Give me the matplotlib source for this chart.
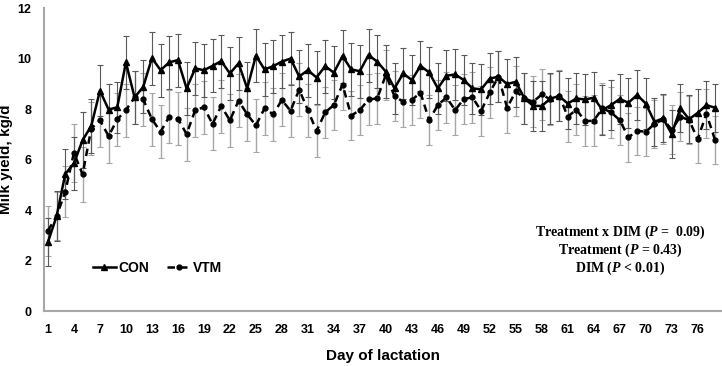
import numpy as np
import matplotlib
matplotlib.use('Agg')
import matplotlib.pyplot as plt

plt.rcParams['font.family'] = ['Liberation Sans', 'DejaVu Sans']
plt.rcParams['mathtext.fontset'] = 'custom'
plt.rcParams['mathtext.it'] = 'Liberation Serif:italic:bold'
plt.rcParams['mathtext.rm'] = 'Liberation Serif:bold'

days = np.arange(1, 79)

con = [2.73, 3.76, 5.43, 5.85, 6.77, 7.33, 8.73, 7.98, 8.07, 9.85,
       8.46, 8.88, 10.02, 9.54, 9.85, 9.94, 8.82, 9.61, 9.54, 9.71,
       9.90, 9.41, 9.81, 8.82, 10.11, 9.57, 9.70, 9.88, 10.00, 9.29,
       9.54, 9.25, 9.70, 9.44, 10.10, 9.57, 9.50, 10.14, 9.88, 9.48,
       8.82, 9.41, 9.15, 9.71, 9.45, 8.82, 9.32, 9.37, 9.15, 8.82,
       8.78, 9.21, 9.28, 8.99, 9.08, 8.42, 8.13, 8.12, 8.42, 8.51,
       8.22, 8.42, 8.38, 8.45, 7.96, 8.16, 8.40, 8.25, 8.56, 8.22,
       7.50, 7.63, 7.01, 8.03, 7.60, 7.85, 8.16, 8.05]

vtm = [3.18, 3.76, 4.73, 6.27, 5.41, 7.23, 7.56, 6.93, 7.59, 7.96,
       8.46, 8.38, 7.60, 7.10, 7.70, 7.62, 7.01, 7.96, 8.07, 7.41,
       8.12, 7.55, 8.33, 7.79, 7.35, 8.03, 7.79, 8.36, 7.93, 8.77,
       7.96, 7.13, 7.87, 8.16, 8.97, 7.74, 7.96, 8.38, 8.42, 9.35,
       8.51, 8.29, 8.36, 8.65, 7.56, 8.16, 8.46, 7.96, 8.40, 8.46,
       7.93, 8.66, 9.28, 8.05, 8.71, 8.42, 8.29, 8.58, 8.38, 8.53,
       7.70, 7.98, 7.52, 7.54, 8.03, 7.87, 7.56, 6.88, 7.14, 7.10,
       7.41, 7.59, 7.19, 7.70, 7.56, 6.81, 7.82, 6.77]

con_se = [0.95, 1.00, 1.00, 1.05, 1.10, 1.05, 1.00, 1.00, 1.00, 1.05,
          1.05, 1.05, 1.05, 1.05, 1.05, 1.05, 1.05, 1.05, 1.05, 1.05,
          1.05, 1.05, 1.05, 1.05, 1.05, 1.05, 1.05, 1.05, 1.05, 1.05,
          1.05, 1.05, 1.05, 1.05, 1.05, 1.05, 1.05, 1.05, 1.05, 1.05,
          1.00, 1.00, 1.00, 1.00, 1.00, 1.00, 1.00, 1.00, 1.00, 1.00,
          1.00, 1.00, 1.00, 1.00, 1.00, 1.00, 1.00, 1.00, 1.00, 1.00,
          1.00, 1.00, 1.00, 1.00, 1.00, 1.00, 1.00, 1.00, 1.00, 1.00,
          0.95, 0.95, 0.95, 0.95, 0.95, 0.95, 0.95, 0.95]

vtm_se = [1.00, 0.95, 1.00, 1.15, 1.10, 1.05, 1.05, 1.05, 1.05, 1.05,
          1.05, 1.05, 1.05, 1.05, 1.05, 1.05, 1.05, 1.05, 1.05, 1.05,
          1.05, 1.05, 1.05, 1.05, 1.05, 1.05, 1.05, 1.05, 1.05, 1.05,
          1.05, 1.02, 1.00, 1.00, 1.00, 0.96, 1.00, 1.00, 1.00, 1.00,
          1.00, 1.00, 1.00, 1.00, 1.00, 1.00, 1.00, 1.00, 1.00, 1.00,
          1.00, 1.00, 1.00, 1.00, 1.00, 1.00, 1.00, 1.00, 1.00, 1.00,
          1.00, 1.00, 1.00, 1.00, 1.00, 1.00, 1.00, 0.96, 0.96, 0.96,
          0.96, 0.96, 0.96, 0.96, 0.96, 0.96, 0.96, 0.96]

xticks = np.arange(1, 79, 3)

fig = plt.figure(figsize=(7.22, 3.66), dpi=100)
ax = fig.add_axes([0.061, 0.150, 0.939, 0.828])

ax.errorbar(days, vtm, yerr=vtm_se, fmt='none', ecolor='#a6a6a6',
            elinewidth=1.0, capsize=2.5, capthick=0.8, zorder=1)
ax.errorbar(days, con, yerr=con_se, fmt='none', ecolor='#595959',
            elinewidth=0.8, capsize=2.5, capthick=0.8, zorder=1)

ax.plot(days, con, color='black', lw=1.8, marker='^', ms=4,
        label='CON', zorder=3)
ax.plot(days, vtm, color='black', lw=1.8, ls=(0, (3, 2)), marker='o',
        ms=3.5, label='VTM', zorder=3)

ax.set_xlim(0.55, 78.8)
ax.set_ylim(0, 12)
ax.set_yticks(np.arange(0, 13, 2))
ax.set_xticks(xticks)
ax.tick_params(length=0, labelsize=9)
for lab in ax.get_xticklabels() + ax.get_yticklabels():
    lab.set_fontweight('bold')
ax.tick_params(axis='x', pad=9)
ax.tick_params(axis='y', pad=9)

for s in ['top', 'right']:
    ax.spines[s].set_visible(False)
for s in ['left', 'bottom']:
    ax.spines[s].set_color('#a6a6a6')
    ax.spines[s].set_linewidth(1.5)

ax.set_xlabel('Day of lactation', fontsize=11, fontweight='bold', labelpad=10)
ax.set_ylabel('Milk yield, kg/d', fontsize=11, fontweight='bold', labelpad=3)

leg = ax.legend(loc='center', bbox_to_anchor=(0.167, 0.142), ncol=2,
                frameon=False, handlelength=1.7, columnspacing=1.3,
                handletextpad=0.15, prop={'weight': 'bold', 'size': 10})

stats = [r'Treatment x DIM ($P$ =  0.09)',
         r'Treatment ($P$ = 0.43)',
         r'DIM ($P$ < 0.01)']
for i, t in enumerate(stats):
    ax.text(0.85, 0.261 - i * 0.06, t, transform=ax.transAxes,
            ha='center', va='center', fontsize=10, fontweight='bold',
            family='Liberation Serif')

fig.savefig('out.png', dpi=100)
